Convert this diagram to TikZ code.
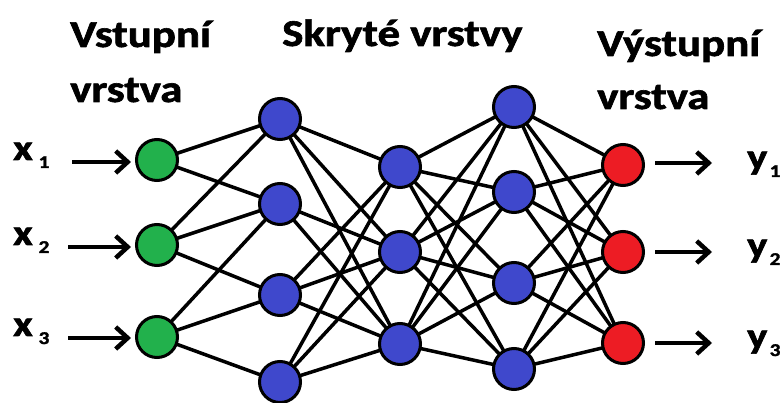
\documentclass[tikz,border=0pt]{standalone}
\usepackage{fontspec}
\setmainfont{Carlito}[BoldFeatures={FakeBold=1.6}]
\usetikzlibrary{arrows.meta,backgrounds}
\definecolor{ingreen}{RGB}{34,177,76}
\definecolor{hidblue}{RGB}{63,72,204}
\definecolor{outred}{RGB}{237,28,36}
% wide, heavy label text
\newcommand\wide[1]{\scalebox{1.18}[1]{#1}}
\newcommand\idx[2][5pt]{\kern#1\raisebox{-8pt}{\fontsize{18}{18}\selectfont #2}}
\begin{document}
\begin{tikzpicture}[x=1pt,y=-1pt,
  neuron/.style={circle,draw=black,line width=3pt,minimum size=41pt,inner sep=0pt},
  link/.style={line width=3.5pt},
  io/.style={line width=4.5pt,-{Straight Barb[length=12pt,width=22pt]}},
  title/.style={anchor=base west,inner sep=0pt,font=\fontsize{38}{42}\selectfont\bfseries},
  var/.style={anchor=base west,inner sep=0pt,font=\fontsize{36}{40}\selectfont\bfseries}]
\useasboundingbox (0,0) rectangle (780,403);

% layer titles
\node[title] (tin1) at (70,47) {\wide{Vstupní}};
\node[title] (tin2) at (70,102) {\wide{vrstva}};
\node[title] (thid) at (282,46) {\wide{Skryté vrstvy}};
\node[title] (tout1) at (597,56) {\wide{Výstupní}};
\node[title] (tout2) at (597,109) {\wide{vrstva}};

% neurons
\foreach \n/\y in {1/160,2/245,3/337}
  \node[neuron,fill=ingreen] (g\n) at (157,\y) {};
\foreach \n/\y in {1/119,2/204,3/295,4/382}
  \node[neuron,fill=hidblue] (b\n) at (280,\y) {};
\foreach \n/\y in {1/167,2/252,3/344}
  \node[neuron,fill=hidblue] (c\n) at (400,\y) {};
\foreach \n/\y in {1/107,2/192,3/283,4/369}
  \node[neuron,fill=hidblue] (d\n) at (514,\y) {};
\foreach \n/\y in {1/165,2/252,3/343}
  \node[neuron,fill=outred] (o\n) at (623,\y) {};

% connections
\begin{pgfonlayer}{background}
  \foreach \a/\b in {g1/b1,g1/b2,g2/b1,g2/b2,g2/b3,g3/b2,g3/b3,g3/b4,
                     b1/c1,b1/c2,b1/c3,b2/c2,b2/c3,
                     b3/c1,b3/c2,b3/c3,b4/c1,b4/c2,b4/c3}
    \draw[link] (\a.center) -- (\b.center);
  \foreach \i in {1,2,3}
    \foreach \j in {1,2,3,4}
      \draw[link] (c\i.center) -- (d\j.center);
  \foreach \i in {1,2,3,4}
    \foreach \j in {1,2,3}
      \draw[link] (d\i.center) -- (o\j.center);
\end{pgfonlayer}

% inputs
\foreach \n/\y/\s in {1/162/72,2/247/68,3/338/68} {
  \node[var] (x\n) at (13,\y-2) {\wide{x\idx{\n}}};
  \coordinate (xs\n) at (\s,\y);
  \coordinate (xe\n) at (131,\y);
  \draw[io] (xs\n) -- (xe\n);
}

% outputs
\foreach \n/\y/\b in {1/163/169,2/252/257,3/343/348} {
  \node[var] (y\n) at (747,\b) {\wide{y\idx[2pt]{\n}}};
  \coordinate (ys\n) at (655,\y);
  \coordinate (ye\n) at (712,\y);
  \draw[io] (ys\n) -- (ye\n);
}
\end{tikzpicture}
\end{document}
